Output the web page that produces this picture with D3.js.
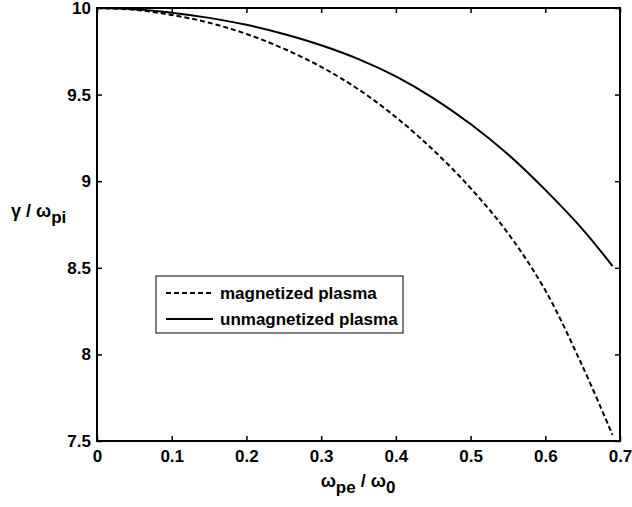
<!DOCTYPE html>
<html>
<head>
<meta charset="utf-8">
<script src="https://cdn.jsdelivr.net/npm/d3@7"></script>
<style>
  body { margin: 0; background: #fff; }
  text { font-family: "Liberation Sans", Arial, sans-serif; font-weight: bold; fill: #000; }
</style>
</head>
<body>
<div id="chart"></div>
<script>
// x values (omega_pe / omega_0)
const xs = [0, 0.05, 0.1, 0.15, 0.2, 0.25, 0.3, 0.35, 0.4, 0.45, 0.5, 0.55, 0.6, 0.65, 0.69];
// gamma / omega_pi
const magnetized = [10, 9.99, 9.96, 9.915, 9.85, 9.765, 9.66, 9.53, 9.37, 9.18, 8.96, 8.70, 8.37, 7.93, 7.535];
const unmagnetized = [10, 9.993, 9.973, 9.943, 9.903, 9.85, 9.785, 9.705, 9.605, 9.48, 9.33, 9.155, 8.95, 8.722, 8.51];
const xTicks = [0, 0.1, 0.2, 0.3, 0.4, 0.5, 0.6, 0.7];
const yTicks = [7.5, 8, 8.5, 9, 9.5, 10];

const width = 632, height = 507;
const m = { left: 97, top: 8, right: 12, bottom: 66 };
const iw = width - m.left - m.right, ih = height - m.top - m.bottom;

const svg = d3.select("#chart").append("svg")
  .attr("width", width).attr("height", height);
const g = svg.append("g").attr("transform", `translate(${m.left},${m.top})`);

const x = d3.scaleLinear().domain([0, 0.7]).range([0, iw]);
const y = d3.scaleLinear().domain([7.5, 10]).range([ih, 0]);

// axes: ticks point inward, box style
const fmt = d => d3.format("")(d);
const styleAxis = sel => {
  sel.select(".domain").remove();
  sel.selectAll("line").attr("stroke", "#000").attr("stroke-width", 1.5);
  sel.selectAll("text").style("font-size", "17px");
};
g.append("g").attr("transform", `translate(0,${ih})`)
  .call(d3.axisBottom(x).tickValues(xTicks).tickFormat(fmt).tickSize(-5).tickPadding(9))
  .call(styleAxis);
g.append("g")
  .call(d3.axisTop(x).tickValues(xTicks).tickFormat("").tickSize(-5))
  .call(styleAxis);
g.append("g")
  .call(d3.axisLeft(y).tickValues(yTicks).tickFormat(fmt).tickSize(-5).tickPadding(6))
  .call(styleAxis);
g.append("g").attr("transform", `translate(${iw},0)`)
  .call(d3.axisRight(y).tickValues(yTicks).tickFormat("").tickSize(-5))
  .call(styleAxis);

g.append("rect").attr("width", iw).attr("height", ih)
  .attr("fill", "none").attr("stroke", "#000").attr("stroke-width", 2);

const line = vals => d3.line()
  .x((d, i) => x(xs[i]))
  .y(d => y(d))
  .curve(d3.curveCatmullRom.alpha(0.5))(vals);

g.append("path").attr("d", line(unmagnetized))
  .attr("fill", "none").attr("stroke", "#000").attr("stroke-width", 2);
g.append("path").attr("d", line(magnetized))
  .attr("fill", "none").attr("stroke", "#000").attr("stroke-width", 2)
  .attr("stroke-dasharray", "5,3");

// legend
const lg = svg.append("g").attr("transform", "translate(156,276)");
lg.append("rect").attr("width", 247).attr("height", 57)
  .attr("fill", "#fff").attr("stroke", "#000").attr("stroke-width", 1);
const items = [
  { label: "magnetized plasma", dash: "5,3" },
  { label: "unmagnetized plasma", dash: null }
];
items.forEach((it, i) => {
  const yy = 17 + i * 26;
  lg.append("line").attr("x1", 10).attr("x2", 57).attr("y1", yy).attr("y2", yy)
    .attr("stroke", "#000").attr("stroke-width", 2)
    .attr("stroke-dasharray", it.dash);
  lg.append("text").attr("x", 64).attr("y", yy + 6)
    .style("font-size", "17px").text(it.label);
});

// axis labels
const xl = svg.append("text").attr("x", 358).attr("y", 487)
  .attr("text-anchor", "middle").style("font-size", "18px");
xl.append("tspan").text("ω");
xl.append("tspan").attr("dy", 6).style("font-size", "17px").text("pe");
xl.append("tspan").attr("dy", -6).text(" / ω");
xl.append("tspan").attr("dy", 6).style("font-size", "17px").text("0");

const yl = svg.append("text").attr("x", 11).attr("y", 217)
  .style("font-size", "18px");
yl.append("tspan").text("γ / ω");
yl.append("tspan").attr("dy", 6).style("font-size", "17px").text("pi");
</script>
</body>
</html>
